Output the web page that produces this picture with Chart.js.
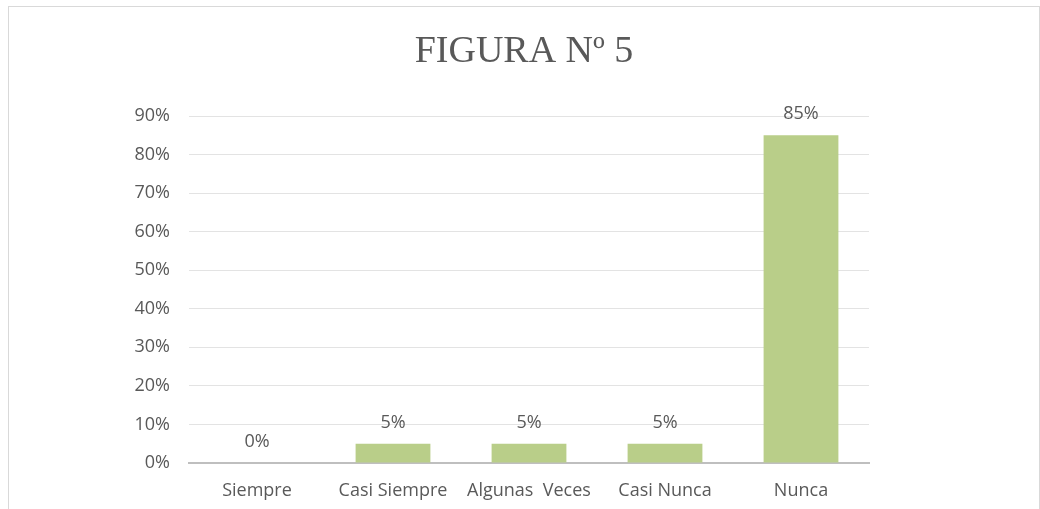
<!DOCTYPE html>
<html>
<head>
<meta charset="utf-8">
<script src="https://cdn.jsdelivr.net/npm/chart.js@4/dist/chart.umd.min.js"></script>
<style>
  html, body { margin: 0; padding: 0; background: #fff; overflow: hidden; }
  #wrap { position: relative; width: 1040px; height: 509px; }
  #frame { position: absolute; left: 8px; top: 6px; width: 1032px; height: 520px; border: 1.5px solid #d9d9d9; box-sizing: border-box; }
  canvas { position: absolute; left: 0; top: 0; }
</style>
</head>
<body>
<div id="wrap">
  <div id="frame"></div>
  <canvas id="c" width="1040" height="509"></canvas>
</div>
<script>
const titleText = "FIGURA Nº 5";
const categories = ["Siempre", "Casi Siempre", "Algunas  Veces", "Casi Nunca", "Nunca"];
const values = [0, 5, 5, 5, 85];
const yTicks = [0, 10, 20, 30, 40, 50, 60, 70, 80, 90];

const textColor = "#595959";
const labelFont = { family: "'Open Sans', sans-serif", size: 18 };

const valueLabels = {
  id: "valueLabels",
  afterDatasetsDraw(chart) {
    const ctx = chart.ctx;
    const meta = chart.getDatasetMeta(0);
    ctx.save();
    ctx.font = "18px 'Open Sans', sans-serif";
    ctx.fillStyle = textColor;
    ctx.textAlign = "center";
    ctx.textBaseline = "alphabetic";
    meta.data.forEach((bar, i) => {
      ctx.fillText(values[i] + "%", bar.x, bar.y - 16);
    });
    ctx.restore();
  }
};

const chartTitle = {
  id: "chartTitle",
  afterDraw(chart) {
    const ctx = chart.ctx;
    ctx.save();
    ctx.font = "38px 'Liberation Serif', serif";
    ctx.fillStyle = textColor;
    ctx.textAlign = "center";
    ctx.textBaseline = "alphabetic";
    ctx.fillText(titleText, 524, 62);
    ctx.restore();
  }
};

new Chart(document.getElementById("c"), {
  type: "bar",
  data: {
    labels: categories,
    datasets: [{
      data: values,
      backgroundColor: "rgb(185,206,137)",
      borderWidth: 0,
      categoryPercentage: 1,
      barPercentage: 0.55
    }]
  },
  options: {
    responsive: false,
    animation: false,
    devicePixelRatio: 1,
    layout: { padding: { left: 6, right: 171, top: 116, bottom: 0 } },
    plugins: {
      legend: { display: false },
      tooltip: { enabled: false },
      title: { display: false }
    },
    scales: {
      x: {
        grid: { display: false, drawTicks: false },
        border: { display: true, color: "#bfbfbf", width: 2 },
        ticks: { color: textColor, font: labelFont, padding: 17, maxRotation: 0 },
        afterFit(s) { s.height = 46; }
      },
      y: {
        min: 0, max: 90,
        grid: { color: "#e3e3e3", lineWidth: 1, drawTicks: false },
        border: { display: false },
        afterBuildTicks(s) { s.ticks = yTicks.map(v => ({ value: v })); },
        ticks: { color: textColor, font: labelFont, padding: 19, callback: v => v + "%" },
        afterFit(s) { s.width = 183; }
      }
    }
  },
  plugins: [valueLabels, chartTitle]
});
</script>
</body>
</html>
